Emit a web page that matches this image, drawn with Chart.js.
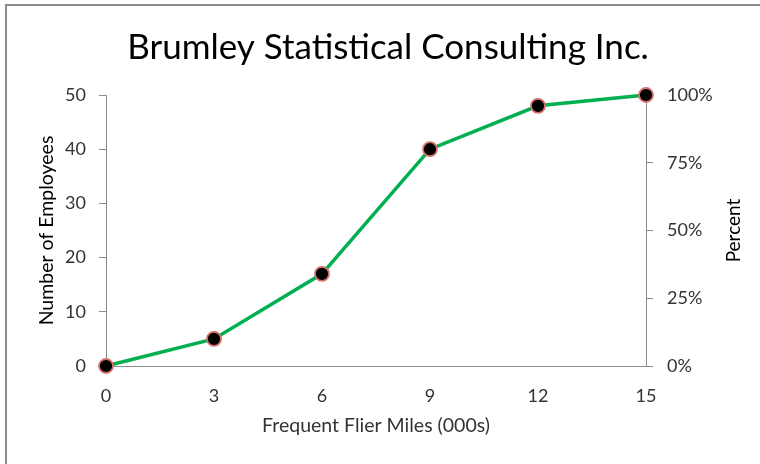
<!DOCTYPE html>
<html>
<head>
<meta charset="utf-8">
<script src="https://cdn.jsdelivr.net/npm/chart.js@4.4.1/dist/chart.umd.min.js"></script>
<style>
  html, body { margin: 0; padding: 0; background: #fff; }
  #wrap { position: relative; width: 760px; height: 464px; }
  #frame { position: absolute; left: 5px; top: 4px; width: 800px; height: 500px; border: 2px solid #8c8c8c; box-sizing: border-box; }
  canvas { position: absolute; left: 0; top: 0; }
</style>
</head>
<body>
<div id="wrap">
  <div id="frame"></div>
  <canvas id="chart" width="760" height="464"></canvas>
</div>
<script>
const miles = [0, 3, 6, 9, 12, 15];
const employees = [0, 5, 17, 40, 48, 50];
const percentTicks = [0, 0.25, 0.5, 0.75, 1];

const fontFamily = "Lato, 'Open Sans', sans-serif";
const axisGray = '#8c8c8c';
const textColor = '#333333';
const chartTitle = 'Brumley Statistical Consulting Inc.';

// title sits a bit right of centre, and the right axis title reads bottom-to-top
const extraText = {
    id: 'extraText',
    afterDraw(chart) {
        const ctx = chart.ctx;
        const area = chart.chartArea;
        ctx.save();
        ctx.font = "35px " + fontFamily;
        ctx.fillStyle = '#000';
        ctx.textAlign = 'center';
        ctx.textBaseline = 'middle';
        ctx.fillText(chartTitle, 388, 48);

        ctx.translate(734, (area.top + area.bottom) / 2);
        ctx.rotate(-Math.PI / 2);
        ctx.font = "19px " + fontFamily;
        ctx.fillText('Percent', 0, 0);
        ctx.restore();
    }
};

const ctx = document.getElementById('chart').getContext('2d');
new Chart(ctx, {
    type: 'line',
    data: {
        datasets: [{
            data: miles.map((m, i) => ({ x: m, y: employees[i] })),
            borderColor: '#00b050',
            borderWidth: 3.5,
            pointRadius: 7,
            pointBackgroundColor: '#000',
            pointBorderColor: '#d86f6b',
            pointBorderWidth: 1.8,
            tension: 0,
            clip: false,
            yAxisID: 'y'
        }, {
            data: [{ x: 0, y: 0 }, { x: 15, y: 1 }],
            showLine: false,
            pointRadius: 0,
            yAxisID: 'y2'
        }]
    },
    options: {
        responsive: false,
        animation: false,
        layout: { padding: 0 },
        plugins: {
            legend: { display: false },
            tooltip: { enabled: false },
            title: {
                // keeps the space, the text itself is drawn by extraText
                display: true,
                text: chartTitle,
                color: 'rgba(0,0,0,0)',
                font: { family: fontFamily, size: 35, weight: 'normal', lineHeight: 1.2 },
                padding: { top: 27, bottom: 26 }
            }
        },
        scales: {
            x: {
                type: 'linear',
                min: 0,
                max: 15,
                afterBuildTicks: axis => { axis.ticks = miles.map(v => ({ value: v })); },
                grid: { display: false, drawTicks: false },
                border: { display: true, color: axisGray, width: 1 },
                ticks: { color: textColor, padding: 19, font: { family: fontFamily, size: 18 } },
                title: {
                    display: true,
                    text: 'Frequent Flier Miles (000s)',
                    color: textColor,
                    font: { family: fontFamily, size: 19.5 },
                    padding: { top: 4, bottom: 27 }
                },
                afterFit: axis => { axis.height = 98; }
            },
            y: {
                position: 'left',
                min: 0,
                max: 50,
                ticks: { stepSize: 10, color: textColor, padding: 13, font: { family: fontFamily, size: 18 } },
                grid: { drawOnChartArea: false, drawTicks: true, tickLength: 7, color: axisGray },
                border: { display: true, color: axisGray, width: 1 },
                title: {
                    display: true,
                    text: 'Number of Employees',
                    color: '#000',
                    font: { family: fontFamily, size: 19.5 },
                    padding: { top: 35 }
                },
                afterFit: axis => { axis.width = 106; }
            },
            y2: {
                position: 'right',
                min: 0,
                max: 1,
                afterBuildTicks: axis => { axis.ticks = percentTicks.map(v => ({ value: v })); },
                ticks: {
                    color: textColor,
                    padding: 14,
                    font: { family: fontFamily, size: 18 },
                    callback: v => Math.round(v * 100) + '%'
                },
                grid: { drawOnChartArea: false, drawTicks: true, tickLength: 7, color: axisGray },
                border: { display: true, color: axisGray, width: 1 },
                afterFit: axis => { axis.width = 114; }
            }
        }
    },
    plugins: [extraText]
});
</script>
</body>
</html>
